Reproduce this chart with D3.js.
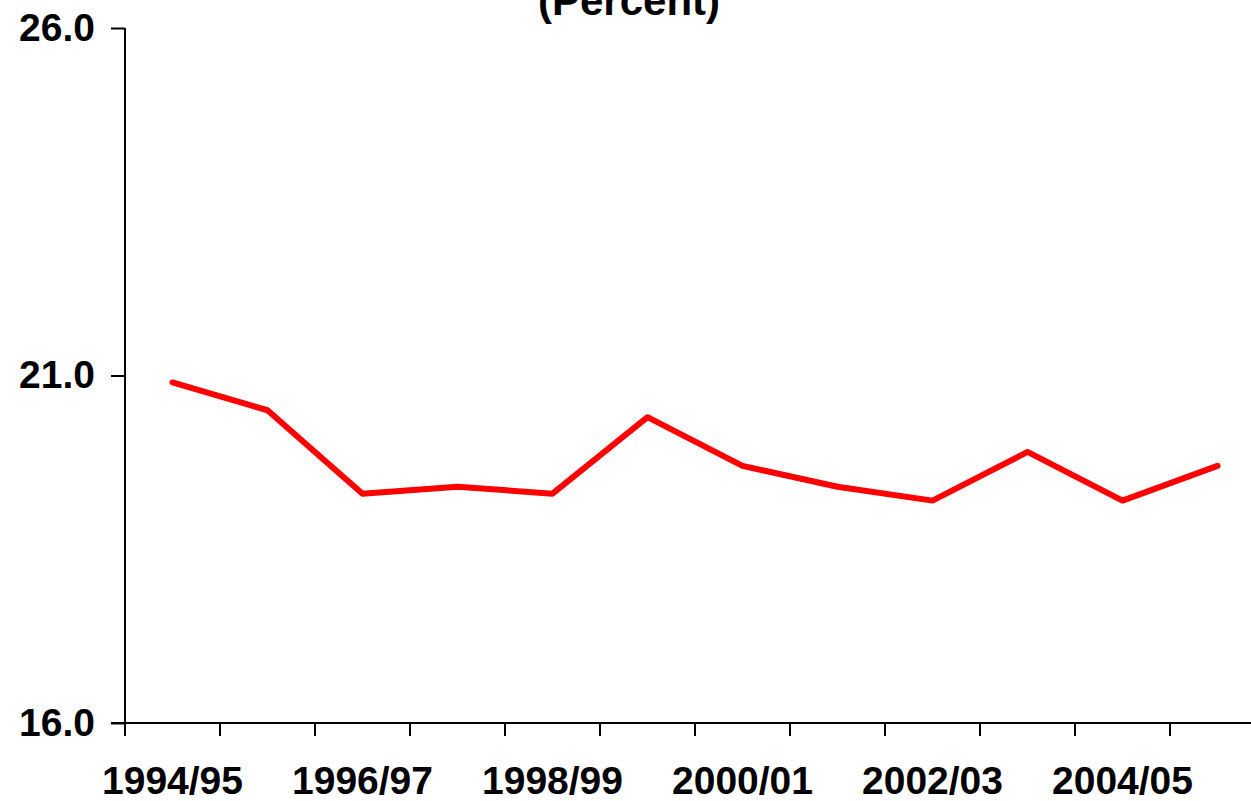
<!DOCTYPE html>
<html>
<head>
<meta charset="utf-8">
<script src="https://cdn.jsdelivr.net/npm/d3@7"></script>
<style>
  body { margin: 0; background: #fff; }
  svg { display: block; font-family: "Liberation Sans", Arial, sans-serif; font-weight: bold; }
</style>
</head>
<body>
<svg></svg>
<script>
// fiscal years and percent values
var years = ["1994/95", "1995/96", "1996/97", "1997/98", "1998/99", "1999/00",
             "2000/01", "2001/02", "2002/03", "2003/04", "2004/05", "2005/06"];
var values = [20.9, 20.5, 19.3, 19.4, 19.3, 20.4, 19.7, 19.4, 19.2, 19.9, 19.2, 19.7];
var yTicks = [16, 21, 26];
var xLabels = ["1994/95", "1996/97", "1998/99", "2000/01", "2002/03", "2004/05"];

var svgWidth = 1251,
    svgHeight = 801;

var svg = d3.select('svg')
    .attr("width", svgWidth)
    .attr("height", svgHeight);

var xScale = d3.scaleBand()
    .domain(years)
    .range([125, 1265]);

var yScale = d3.scaleLinear()
    .domain([16, 26])
    .range([723, 28]);

// title (mostly off the top)
svg.append("text")
    .attr("x", 629)
    .attr("y", 15)
    .attr("text-anchor", "middle")
    .attr("font-size", 42)
    .text("(Percent)");

// y axis
var yAxis = svg.append("g")
    .attr("transform", "translate(125,0)")
    .call(d3.axisLeft(yScale)
        .tickValues(yTicks)
        .tickSize(14)
        .tickPadding(16)
        .tickFormat(d3.format(".1f")));
yAxis.select(".domain").attr("stroke", "#000").attr("stroke-width", 2).attr("d", "M0,28V736");
yAxis.selectAll(".tick line").attr("stroke", "#000").attr("stroke-width", 2);
yAxis.selectAll(".tick text")
    .attr("font-size", 39)
    .attr("font-family", "Liberation Sans, Arial, sans-serif")
    .attr("font-weight", "bold")
    .attr("fill", "#000");

// x axis line
svg.append("line")
    .attr("x1", 111)
    .attr("x2", svgWidth)
    .attr("y1", yScale(16))
    .attr("y2", yScale(16))
    .attr("stroke", "#000")
    .attr("stroke-width", 2);

// x ticks at category boundaries
svg.selectAll(".xtick")
    .data(years)
    .enter()
    .append("line")
    .attr("class", "xtick")
    .attr("x1", function(d) { return xScale(d); })
    .attr("x2", function(d) { return xScale(d); })
    .attr("y1", yScale(16))
    .attr("y2", yScale(16) + 13)
    .attr("stroke", "#000")
    .attr("stroke-width", 2);

// x labels, every other year
svg.selectAll(".xlabel")
    .data(xLabels)
    .enter()
    .append("text")
    .attr("class", "xlabel")
    .attr("x", function(d) { return xScale(d) + xScale.bandwidth() / 2; })
    .attr("y", 794)
    .attr("text-anchor", "middle")
    .attr("font-size", 39)
    .text(function(d) { return d; });

// the line
var line = d3.line()
    .x(function(d, i) { return xScale(years[i]) + xScale.bandwidth() / 2; })
    .y(function(d) { return yScale(d); });

svg.append("path")
    .datum(values)
    .attr("d", line)
    .attr("fill", "none")
    .attr("stroke", "#FF0000")
    .attr("stroke-width", 6)
    .attr("stroke-linejoin", "round")
    .attr("stroke-linecap", "round");
</script>
</body>
</html>
